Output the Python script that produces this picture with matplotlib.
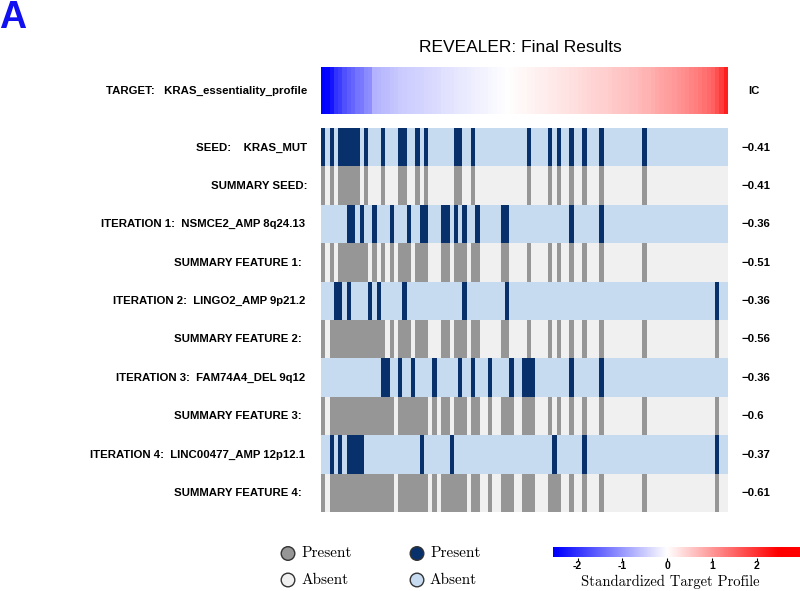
import numpy as np
import matplotlib
matplotlib.use("Agg")
import matplotlib.pyplot as plt
from matplotlib.patches import Circle
from matplotlib.colors import to_rgb

# ---------------- data ----------------
N_SAMPLES = 95
target_profile = [
    -2.55, -2.45, -2.3, -2.0, -1.9, -1.7, -1.6, -1.5, -1.35, -1.3, -1.15, -1.1,
    -0.75, -0.72, -0.68, -0.65, -0.6, -0.55, -0.52, -0.5, -0.48, -0.46, -0.44, -0.42, -0.4, -0.38,
    -0.36, -0.34, -0.31, -0.28, -0.26, -0.24, -0.22, -0.2, -0.18,
    -0.16, -0.14, -0.12, -0.1, -0.08, -0.06, -0.04, -0.02,
    0.0, 0.02, 0.04, 0.06,
    0.08, 0.1, 0.12, 0.14, 0.16, 0.18, 0.2, 0.22,
    0.24, 0.26, 0.28, 0.3, 0.32, 0.35, 0.38, 0.4,
    0.42, 0.44, 0.46, 0.48, 0.5, 0.53, 0.56, 0.58,
    0.6, 0.63, 0.66, 0.7, 0.73, 0.76, 0.8, 0.84,
    0.88, 0.92, 0.96, 1.0, 1.05, 1.1, 1.15, 1.2,
    1.25, 1.3, 1.37, 1.45, 1.55, 1.7, 1.9, 2.2,
]

seed_present = [0, 2, 4, 5, 6, 7, 8, 10, 14, 18, 19, 22, 24, 31, 32, 35, 48, 53, 55, 58, 61, 65, 75]
iter1_present = [6, 7, 9, 12, 16, 20, 23, 24, 28, 29, 31, 33, 36, 42, 43, 58, 65]
iter2_present = [3, 4, 6, 11, 13, 19, 33, 43, 92]
iter3_present = [14, 15, 18, 21, 26, 32, 35, 39, 44, 47, 48, 49, 58, 65]
iter4_present = [2, 4, 6, 7, 8, 9, 23, 30, 54, 61, 92]

target_label = "TARGET:   KRAS_essentiality_profile"
feature_labels = [
    "SEED:    KRAS_MUT",
    "ITERATION 1:  NSMCE2_AMP 8q24.13",
    "ITERATION 2:  LINGO2_AMP 9p21.2",
    "ITERATION 3:  FAM74A4_DEL 9q12",
    "ITERATION 4:  LINC00477_AMP 12p12.1",
]
summary_labels = [
    "SUMMARY SEED:",
    "SUMMARY FEATURE 1:",
    "SUMMARY FEATURE 2:",
    "SUMMARY FEATURE 3:",
    "SUMMARY FEATURE 4:",
]
feature_ic = [-0.41, -0.36, -0.36, -0.36, -0.37]
summary_ic = [-0.41, -0.51, -0.56, -0.6, -0.61]
cbar_ticks = [-2, -1, 0, 1, 2]
cbar_range = [-2.55, 2.97]

# ---------------- style ----------------
W, H = 800, 591
FEAT_ON, FEAT_OFF = "#08306b", "#c6dbef"
SUM_ON, SUM_OFF = "#969696", "#f0f0f0"
SANS = ["Liberation Sans", "DejaVu Sans"]
SERIF = ["cmr10", "DejaVu Serif"]

fig = plt.figure(figsize=(W / 100, H / 100), dpi=100)


def box(x0, y0, x1, y1):
    return [x0 / W, 1 - y1 / H, (x1 - x0) / W, (y1 - y0) / H]


def fx(x):
    return x / W


def fy(y):
    return 1 - y / H


HX0, HX1 = 321.3, 728.3

# target row
ax_t = fig.add_axes(box(HX0, 67, HX1, 114.5))
ax_t.imshow(np.array(target_profile)[None, :], cmap="bwr", vmin=-2.5, vmax=2.5,
            aspect="auto", interpolation="nearest")
ax_t.set_axis_off()

# feature heatmap rows
features = [seed_present, iter1_present, iter2_present, iter3_present, iter4_present]
rows_rgb = []
row_labels = []
row_ic = []
row_kind = []
cumulative = set()
for i, feat in enumerate(features):
    fv = np.zeros(N_SAMPLES, bool)
    fv[feat] = True
    cumulative |= set(feat)
    sv = np.zeros(N_SAMPLES, bool)
    sv[sorted(cumulative)] = True
    rows_rgb.append([to_rgb(FEAT_ON) if v else to_rgb(FEAT_OFF) for v in fv])
    rows_rgb.append([to_rgb(SUM_ON) if v else to_rgb(SUM_OFF) for v in sv])
    row_labels += [feature_labels[i], summary_labels[i]]
    row_ic += [feature_ic[i], summary_ic[i]]
    row_kind += ["feat", "sum"]

HY0, HY1 = 128.3, 512.3
ax_h = fig.add_axes(box(HX0, HY0, HX1, HY1))
ax_h.imshow(np.array(rows_rgb), aspect="auto", interpolation="nearest")
ax_h.set_axis_off()

row_h = (HY1 - HY0) / len(rows_rgb)

# labels
fig.text(fx(307.5), fy(91), target_label, ha="right", va="center",
         fontsize=8.2, fontweight="bold", family=SANS)
fig.text(fx(748), fy(91.5), "IC", ha="left", va="center",
         fontsize=8.2, fontweight="bold", family=SANS)
for k, (lab, ic, kind) in enumerate(zip(row_labels, row_ic, row_kind)):
    yc = HY0 + row_h * (k + 0.5)
    if lab.startswith("SEED") or lab.startswith("SUMMARY SEED"):
        xr = 307.5
    elif kind == "feat":
        xr = 305
    else:
        xr = 301.5
    fig.text(fx(xr), fy(yc), lab, ha="right", va="center",
             fontsize=8.2, fontweight="bold", family=SANS)
    fig.text(fx(741.5), fy(yc), f"{ic:g}".replace("-", "\u2212"), ha="left", va="center",
             fontsize=8.2, fontweight="bold", family=SANS)

# title and panel letter
fig.text(fx(520), fy(47), "REVEALER: Final Results", ha="center", va="center",
         fontsize=12.5, family=SANS)
fig.text(fx(-1), fy(0), "A", ha="left", va="top", fontsize=27,
         fontweight="bold", color="#1010f0", family=SANS)

# legend (drawn in a pixel-coordinate overlay)
ax_l = fig.add_axes([0, 0, 1, 1], zorder=-1)
ax_l.set_xlim(0, W)
ax_l.set_ylim(H, 0)
ax_l.set_axis_off()
legend_items = [
    (288, 553.5, SUM_ON, "Present"),
    (288, 580, SUM_OFF, "Absent"),
    (417, 553.5, FEAT_ON, "Present"),
    (417, 580, FEAT_OFF, "Absent"),
]
for cx, cy, col, txt in legend_items:
    ax_l.add_patch(Circle((cx, cy), 6.8, facecolor=col, edgecolor="#333333", lw=1.0))
    ax_l.text(cx + 13, cy, txt, ha="left", va="center", fontsize=11, family=SERIF)

# colorbar
ax_c = fig.add_axes(box(553, 547, 800, 557.5))
grad = np.linspace(cbar_range[0], cbar_range[1], 400)
ax_c.imshow(grad[None, :], cmap="bwr", vmin=-2.5, vmax=2.5, aspect="auto",
            extent=[cbar_range[0], cbar_range[1], 0, 1], interpolation="bilinear")
ax_c.set_xlim(cbar_range)
ax_c.set_yticks([])
ax_c.set_xticks(cbar_ticks)
ax_c.set_xticklabels([str(t) for t in cbar_ticks], fontsize=7.5, fontweight="bold",
                     family=SANS)
ax_c.tick_params(axis="x", length=2, width=0.8, pad=0.5)
for s in ax_c.spines.values():
    s.set_visible(False)
fig.text(fx(670), fy(582), "Standardized Target Profile", ha="center", va="center",
         fontsize=10.5, family=SERIF)

fig.savefig("out.png", dpi=100)
